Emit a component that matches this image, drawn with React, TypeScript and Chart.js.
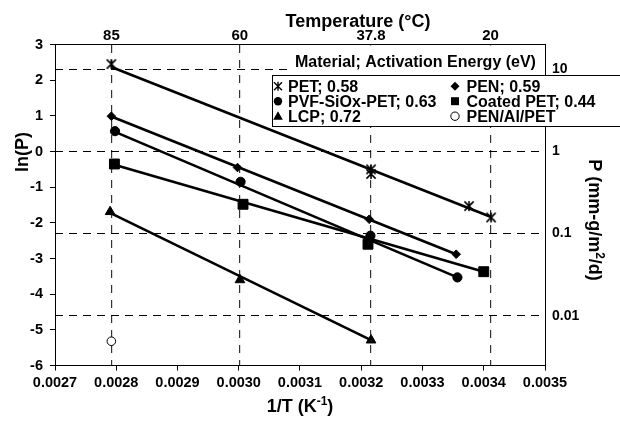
import React, { useEffect, useRef } from 'react';
import { Chart, registerables } from 'chart.js';

Chart.register(...registerables);

const FONT = 'Arial, "Liberation Sans", Helvetica, sans-serif';

// ---- axis ticks ----
const xTicks = [0.0027, 0.0028, 0.0029, 0.003, 0.0031, 0.0032, 0.0033, 0.0034, 0.0035];
const yTicks = [3, 2, 1, 0, -1, -2, -3, -4, -5, -6];
const tempTicksC = [85, 60, 37.8, 20];
const pTicks = [10, 1, 0.1, 0.01];
const pTickLabels = ['10', '1', '0.1', '0.01'];

// ---- measured data (1/T in K^-1, ln(P)) ----
const petX = [0.002792, 0.003216, 0.003216, 0.003376, 0.003412];
const petY = [2.45, -0.5, -0.63, -1.53, -1.85];
const penX = [0.002792, 0.002998, 0.003213, 0.003355];
const penY = [0.99, -0.45, -1.9, -2.88];
const pvfX = [0.002798, 0.003003, 0.003215, 0.003357];
const pvfY = [0.57, -0.85, -2.36, -3.53];
const coatedX = [0.002797, 0.003007, 0.003211, 0.0034];
const coatedY = [-0.35, -1.48, -2.6, -3.37];
const lcpX = [0.00279, 0.003002, 0.003216];
const lcpY = [-1.69, -3.6, -5.29];
const penAlX = [0.002792];
const penAlY = [-5.32];

// ---- Arrhenius fit lines (end points) ----
const petFitX = [0.002792, 0.003411];
const petFitY = [2.37, -1.83];
const penFitX = [0.002792, 0.003355];
const penFitY = [0.98, -2.88];
const pvfFitX = [0.002798, 0.003357];
const pvfFitY = [0.55, -3.53];
const coatedFitX = [0.002797, 0.0034];
const coatedFitY = [-0.37, -3.37];
const lcpFitX = [0.00279, 0.003216];
const lcpFitY = [-1.72, -5.29];

const legendTitle = 'Material; Activation Energy (eV)';
const legendItems = [
  { label: 'PET; 0.58', marker: 'asterisk' },
  { label: 'PVF-SiOx-PET; 0.63', marker: 'circle' },
  { label: 'LCP; 0.72', marker: 'triangle' },
  { label: 'PEN; 0.59', marker: 'diamond' },
  { label: 'Coated PET; 0.44', marker: 'square' },
  { label: 'PEN/Al/PET', marker: 'open' },
];

const pts = (xs: number[], ys: number[]) => xs.map((x, i) => ({ x, y: ys[i] }));

function makeAsterisk(size: number, arm: number, lw: number) {
  const c = document.createElement('canvas');
  c.width = size;
  c.height = size;
  const g = c.getContext('2d')!;
  const h = size / 2;
  g.strokeStyle = '#000';
  g.lineWidth = lw;
  g.beginPath();
  g.moveTo(h - arm, h - arm);
  g.lineTo(h + arm, h + arm);
  g.moveTo(h + arm, h - arm);
  g.lineTo(h - arm, h + arm);
  g.moveTo(h, h - arm - 0.5);
  g.lineTo(h, h + arm + 0.5);
  g.stroke();
  return c;
}

function drawMarker(ctx: CanvasRenderingContext2D, kind: string, x: number, y: number) {
  ctx.save();
  ctx.fillStyle = '#000';
  ctx.strokeStyle = '#000';
  ctx.lineWidth = 1;
  ctx.beginPath();
  if (kind === 'asterisk') {
    const a = 4;
    ctx.lineWidth = 1.4;
    ctx.moveTo(x - a, y - a); ctx.lineTo(x + a, y + a);
    ctx.moveTo(x + a, y - a); ctx.lineTo(x - a, y + a);
    ctx.moveTo(x, y - a - 0.5); ctx.lineTo(x, y + a + 0.5);
    ctx.stroke();
  } else if (kind === 'circle') {
    ctx.arc(x, y, 4.2, 0, Math.PI * 2);
    ctx.fill();
  } else if (kind === 'open') {
    ctx.fillStyle = '#fff';
    ctx.arc(x, y, 4.2, 0, Math.PI * 2);
    ctx.fill();
    ctx.stroke();
  } else if (kind === 'triangle') {
    ctx.moveTo(x, y - 5);
    ctx.lineTo(x + 4.8, y + 3.5);
    ctx.lineTo(x - 4.8, y + 3.5);
    ctx.closePath();
    ctx.fill();
  } else if (kind === 'diamond') {
    ctx.moveTo(x, y - 4.5);
    ctx.lineTo(x + 4.5, y);
    ctx.lineTo(x, y + 4.5);
    ctx.lineTo(x - 4.5, y);
    ctx.closePath();
    ctx.fill();
  } else if (kind === 'square') {
    ctx.rect(x - 4, y - 4, 8, 8);
    ctx.fill();
  }
  ctx.restore();
}

const overlayPlugin = {
  id: 'overlay',
  afterDraw(chart: any) {
    const ctx: CanvasRenderingContext2D = chart.ctx;
    ctx.save();
    ctx.fillStyle = '#000';
    ctx.textBaseline = 'alphabetic';

    // top axis title
    ctx.font = `bold 18px ${FONT}`;
    ctx.textAlign = 'center';
    ctx.fillText('Temperature (°C)', 358, 27);

    // bottom axis title with superscript
    {
      const a = '1/T (K', s = '-1', b = ')';
      ctx.font = `bold 18px ${FONT}`;
      const wa = ctx.measureText(a).width;
      const wb = ctx.measureText(b).width;
      ctx.font = `bold 12px ${FONT}`;
      const ws = ctx.measureText(s).width;
      const x0 = 300 - (wa + ws + wb) / 2;
      ctx.textAlign = 'left';
      ctx.font = `bold 18px ${FONT}`;
      ctx.fillText(a, x0, 412);
      ctx.font = `bold 12px ${FONT}`;
      ctx.fillText(s, x0 + wa, 405);
      ctx.font = `bold 18px ${FONT}`;
      ctx.fillText(b, x0 + wa + ws, 412);
    }

    // left title
    ctx.save();
    ctx.translate(28.3, 152);
    ctx.rotate(-Math.PI / 2);
    ctx.font = `bold 18px ${FONT}`;
    ctx.textAlign = 'center';
    ctx.fillText('ln(P)', 0, 0);
    ctx.restore();

    // right title with superscript
    ctx.save();
    ctx.translate(588.5, 220);
    ctx.rotate(Math.PI / 2);
    {
      const a = 'P (mm-g/m', s = '2', b = '/d)';
      ctx.font = `bold 18px ${FONT}`;
      const wa = ctx.measureText(a).width;
      const wb = ctx.measureText(b).width;
      ctx.font = `bold 12px ${FONT}`;
      const ws = ctx.measureText(s).width;
      const x0 = -(wa + ws + wb) / 2;
      ctx.textAlign = 'left';
      ctx.font = `bold 18px ${FONT}`;
      ctx.fillText(a, x0, 0);
      ctx.font = `bold 12px ${FONT}`;
      ctx.fillText(s, x0 + wa, -7);
      ctx.font = `bold 18px ${FONT}`;
      ctx.fillText(b, x0 + wa + ws, 0);
    }
    ctx.restore();

    // legend title background + text
    ctx.fillStyle = '#fff';
    ctx.fillRect(290, 45.5, 254, 29.5);
    ctx.fillStyle = '#000';
    ctx.font = `bold 16px ${FONT}`;
    ctx.textAlign = 'left';
    ctx.fillText(legendTitle, 295, 66.5);

    // legend box
    ctx.fillStyle = '#fff';
    ctx.fillRect(272, 75, 360, 52);
    ctx.strokeStyle = '#000';
    ctx.lineWidth = 1;
    ctx.strokeRect(272.5, 75.5, 360, 51);

    const colMarker = [278, 455];
    const colText = [288, 466.5];
    const rowBase = [91.7, 106.7, 121.7];
    ctx.font = `bold 16px ${FONT}`;
    ctx.fillStyle = '#000';
    legendItems.forEach((it, i) => {
      const col = Math.floor(i / 3);
      const row = i % 3;
      drawMarker(ctx, it.marker, colMarker[col], rowBase[row] - 5.5);
      ctx.fillStyle = '#000';
      ctx.fillText(it.label, colText[col], rowBase[row]);
    });
    ctx.restore();
  },
};

export default function App() {
  const ref = useRef<HTMLCanvasElement | null>(null);

  useEffect(() => {
    if (!ref.current) return;
    Chart.defaults.font.family = FONT;
    const star = makeAsterisk(12, 4.6, 1.6);
    const tickFont = { size: 14.5, weight: 'bold' as const, family: FONT };

    const marker = (data: any[], style: any, radius: number, fill = '#000') => ({
      data,
      showLine: false,
      pointStyle: style,
      pointRadius: radius,
      pointBackgroundColor: fill,
      pointBorderColor: '#000',
      pointBorderWidth: 1,
      backgroundColor: fill,
      borderColor: '#000',
    });
    const line = (data: any[]) => ({
      data,
      showLine: true,
      pointRadius: 0,
      borderColor: '#000',
      borderWidth: 2.6,
      fill: false,
    });

    const chart = new Chart(ref.current, {
      type: 'scatter',
      data: {
        datasets: [
          marker(pts(petX, petY), star, 5),
          marker(pts(penX, penY), 'rectRot', 4.3),
          marker(pts(pvfX, pvfY), 'circle', 4.6),
          marker(pts(coatedX, coatedY), 'rect', 7),
          marker(pts(lcpX, lcpY), 'triangle', 5.6),
          marker(pts(penAlX, penAlY), 'circle', 4.3, '#fff'),
          line(pts(petFitX, petFitY)),
          line(pts(penFitX, penFitY)),
          line(pts(pvfFitX, pvfFitY)),
          line(pts(coatedFitX, coatedFitY)),
          line(pts(lcpFitX, lcpFitY)),
        ] as any,
      },
      options: {
        animation: false,
        responsive: false,
        layout: { padding: 0 },
        plugins: { legend: { display: false }, tooltip: { enabled: false } },
        events: [],
        scales: {
          x: {
            type: 'linear',
            position: 'bottom',
            min: 0.0027,
            max: 0.0035,
            afterFit: (s: any) => { s.height = 56.5; },
            afterBuildTicks: (s: any) => { s.ticks = xTicks.map((v) => ({ value: v })); },
            ticks: {
              callback: (v: any) => Number(v).toFixed(4),
              font: tickFont,
              color: '#000',
              padding: 4,
              autoSkip: false,
              maxRotation: 0,
            },
            grid: { drawOnChartArea: false, drawTicks: true, tickLength: 5, color: '#000', lineWidth: 1 },
            border: { display: true, color: '#000', width: 1 },
          },
          x2: {
            type: 'linear',
            position: 'top',
            min: 0.0027,
            max: 0.0035,
            afterFit: (s: any) => { s.height = 44.5; },
            afterBuildTicks: (s: any) => {
              s.ticks = tempTicksC.map((t) => ({ value: 1 / (t + 273.15) }));
            },
            ticks: {
              callback: (_v: any, i: number) => String(tempTicksC[i]),
              font: { ...tickFont, size: 15 },
              color: '#000',
              padding: 0,
              autoSkip: false,
              maxRotation: 0,
            },
            grid: { drawOnChartArea: true, drawTicks: false, color: '#333', lineWidth: 1.2 },
            border: { display: true, color: '#000', width: 1, dash: [8, 7] },
          },
          y: {
            type: 'linear',
            position: 'left',
            min: -6,
            max: 3,
            afterFit: (s: any) => { s.width = 55; },
            afterBuildTicks: (s: any) => { s.ticks = yTicks.map((v) => ({ value: v })); },
            ticks: {
              callback: (v: any) => String(v),
              font: tickFont,
              color: '#000',
              padding: 7,
              autoSkip: false,
            },
            grid: { drawOnChartArea: false, drawTicks: true, tickLength: 5, color: '#000', lineWidth: 1 },
            border: { display: true, color: '#000', width: 1 },
          },
          y2: {
            type: 'linear',
            position: 'right',
            min: -6,
            max: 3,
            afterFit: (s: any) => { s.width = 75; },
            afterBuildTicks: (s: any) => {
              s.ticks = pTicks.map((p) => ({ value: Math.log(p) }));
            },
            ticks: {
              callback: (_v: any, i: number) => pTickLabels[i],
              font: { ...tickFont, size: 14 },
              color: '#000',
              padding: 7,
              autoSkip: false,
            },
            grid: { drawOnChartArea: true, drawTicks: false, color: '#000', lineWidth: 1 },
            border: { display: true, color: '#000', width: 1, dash: [8, 6] },
          },
        },
      } as any,
      plugins: [overlayPlugin],
    });
    return () => chart.destroy();
  }, []);

  return (
    <div style={{ position: 'absolute', left: 0, top: 0, width: 620, height: 422, background: '#fff' }}>
      <canvas ref={ref} width={620} height={422} style={{ display: 'block', width: 620, height: 422 }} />
    </div>
  );
}
